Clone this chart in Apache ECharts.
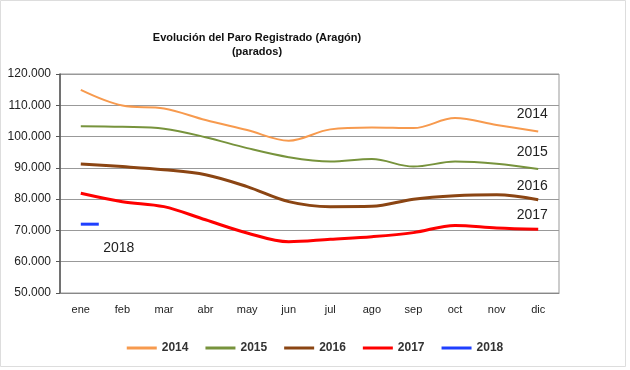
<!DOCTYPE html>
<html><head><meta charset="utf-8">
<script src="https://cdn.jsdelivr.net/npm/echarts@6/dist/echarts.min.js"></script>
<style>html,body{margin:0;padding:0;background:#fff}#c{width:630px;height:370px}</style>
</head><body><div id="c"></div>
<script>
var months = ['ene','feb','mar','abr','may','jun','jul','ago','sep','oct','nov','dic'];
var yearNames = ['2014','2015','2016','2017','2018'];
var s2014 = [114900,109900,109000,105300,102100,98700,102300,102900,102700,105900,103700,101600];
var s2015 = [103300,103100,102500,99800,96300,93400,92000,92800,90400,92000,91300,89600];
var s2016 = [91200,90400,89400,87800,84000,79200,77600,77700,80000,81100,81400,79800];
var s2017 = [81900,79200,77600,73400,69200,66400,67200,68000,69300,71600,70800,70400];
var s2018 = [72000];
var yTicks = [50000,60000,70000,80000,90000,100000,110000,120000];

var colors = ['#F79A4E','#77933C','#8B4513','#FF0000','#1F3FFF'];
var widths = [2,2,3,3,3];
var labelRise = [-17,-17,-14,-14];
var allData = [s2014,s2015,s2016,s2017,s2018];

function fmt(v){ return String(v/1000) + '.000'; }

var labelFont = {fontFamily:'Liberation Sans, Arial', fontSize:14, color:'#222', align:'center', verticalAlign:'middle'};

var series = allData.map(function(d,i){
  var data = d.map(function(v,j){
    if (i < 4 && j === d.length-1) {
      return {value:v, label:Object.assign({show:true, position:[-6, labelRise[i]], formatter:yearNames[i]}, labelFont)};
    }
    return v;
  });
  var s = {
    name: yearNames[i], type:'line', smooth:0.35, data:data,
    showSymbol:true, symbol:'circle', symbolSize:0,
    lineStyle:{color:colors[i], width:widths[i]}, itemStyle:{color:colors[i]},
    labelLayout:{hideOverlap:false},
    emphasis:{disabled:true}, animation:false
  };
  if (i === 4) {
    s.symbol = 'rect';
    s.symbolSize = [18,3];
    s.symbolOffset = [9,0];
    s.data = d.map(function(v){ return {value:v, label:Object.assign({show:true, position:[38,25],
      formatter:'2018'}, labelFont)}; });
  }
  return s;
});

var chart = echarts.init(document.getElementById('c'), null, {renderer:'canvas'});
chart.setOption({
  backgroundColor:'#fff',
  animation:false,
  title:{
    text:'Evolución del Paro Registrado (Aragón)\n(parados)',
    left:252, textAlign:'center', top:26,
    textStyle:{fontFamily:'Liberation Sans, Arial', fontSize:11, fontWeight:'bold', color:'#111', lineHeight:14}
  },
  grid:{left:60, right:71, top:74, bottom:77, show:true, borderColor:'#999', borderWidth:1},
  legend:{
    data:yearNames, bottom:11, left:'center', itemWidth:30, itemHeight:3, itemGap:17,
    icon:'rect',
    textStyle:{fontFamily:'Liberation Sans, Arial', fontSize:12, fontWeight:'bold', color:'#333'}
  },
  xAxis:{
    type:'category', data:months, boundaryGap:true,
    axisLine:{lineStyle:{color:'#888'}}, axisTick:{show:false},
    axisLabel:{fontFamily:'Liberation Sans, Arial', fontSize:11, color:'#222', margin:11}
  },
  yAxis:{
    type:'value', min:yTicks[0], max:yTicks[yTicks.length-1], interval:10000,
    axisLine:{show:true, lineStyle:{color:'#555', width:1.5}},
    axisTick:{show:true, length:4, lineStyle:{color:'#555'}},
    splitLine:{lineStyle:{color:'#999', width:1}},
    axisLabel:{formatter:fmt, fontFamily:'Liberation Sans, Arial', fontSize:12, color:'#222', margin:9}
  },
  graphic:[{type:'rect', shape:{x:0.5,y:0.5,width:625,height:366}, style:{fill:'none', stroke:'#ddd', lineWidth:1}, silent:true}],
  series:series
});
</script></body></html>
